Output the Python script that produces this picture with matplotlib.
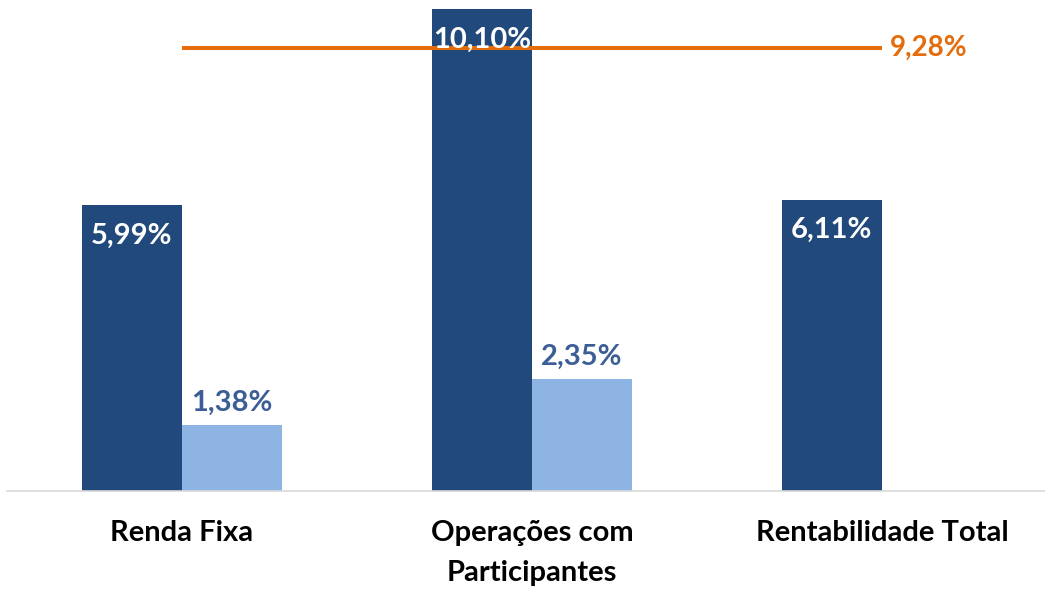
import matplotlib
matplotlib.use("Agg")
import matplotlib.pyplot as plt
import numpy as np

categories = ["Renda Fixa", "Operações com\nParticipantes", "Rentabilidade Total"]
rentab = [5.99, 10.10, 6.11]
benchmark = [1.38, 2.35, None]
meta = 9.28

dark = "#21497B"
light = "#8EB4E3"
orange = "#E46C0A"
label_blue = "#3B5E95"

plt.rcParams['font.family'] = ['Lato', 'DejaVu Sans']
plt.rcParams['font.weight'] = 'bold'

fig = plt.figure(figsize=(10.45, 5.9), dpi=100)
ax = fig.add_axes([7 / 1045, 0.1678, 1038 / 1045, 0.832])

x = np.arange(len(categories))
w = 0.2857
fs = 21

ax.bar(x - w / 2, rentab, width=w, color=dark)
for xi, v in zip(x, rentab):
    ax.text(xi - w / 2, v - 0.64, f"{v:.2f}%".replace(".", ","), ha="center", va="center",
            color="white", fontsize=fs, fontweight="bold")

for xi, v in zip(x, benchmark):
    if v is None:
        continue
    ax.bar(xi + w / 2, v, width=w, color=light)
    ax.text(xi + w / 2, v + 0.46, f"{v:.2f}%".replace(".", ","), ha="center", va="center",
            color=label_blue, fontsize=fs, fontweight="bold")

ax.plot([x[0], x[-1]], [meta, meta], color=orange, lw=2.9, solid_capstyle="butt")
ax.text(x[-1] + 0.023, meta, f"{meta:.2f}%".replace(".", ","), ha="left", va="center",
        color=orange, fontsize=20, fontweight="bold")

ax.set_xlim(-0.5, 2.466)
ax.set_ylim(0, 10.29)
ax.set_yticks([])
ax.set_xticks(x)
ax.set_xticklabels(categories, fontsize=fs, fontweight="bold", linespacing=1.65)
ax.tick_params(axis="x", length=0, pad=21)
for s in ["top", "right", "left"]:
    ax.spines[s].set_visible(False)
ax.spines["bottom"].set_color("#D9D9D9")
ax.spines["bottom"].set_linewidth(1.2)

fig.savefig("out.png", dpi=100)
